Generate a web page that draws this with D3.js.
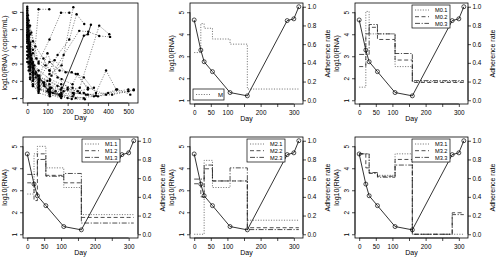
<!DOCTYPE html>
<meta charset="utf-8">
<script src="https://cdnjs.cloudflare.com/ajax/libs/d3/7.8.5/d3.min.js"></script>
<style>
  body { margin: 0; background: #fff; }
  text { font-family: "Liberation Sans", Arial, sans-serif; fill: #000; }
</style>
<div id="chart"></div>
<script>

  // ---- data ----
  // panel 1: viral load trajectories, [day, log10 RNA]
  const patients = [
    [[0,6.3],[3,5.8],[7,5.1],[14,4.2],[28,3.0],[56,2.2],[84,1.8],[112,1.5],[168,1.2],[224,1.1],[280,1.0]],
    [[0,6.1],[4,5.3],[8,4.6],[15,3.6],[29,2.8],[57,2.1],[113,1.6],[170,1.3],[230,1.2]],
    [[0,5.9],[2,5.6],[7,4.9],[14,3.9],[21,3.3],[42,2.5],[84,1.9],[140,1.4]],
    [[0,5.8],[7,4.4],[14,3.4],[28,2.5],[56,1.9],[105,1.5],[168,1.2],[240,1.0],[330,1.1],[420,1.2],[527,1.45]],
    [[0,5.6],[5,5.0],[10,4.3],[20,3.5],[35,2.9],[60,2.3],[110,1.8],[165,1.5],[225,1.3],[300,1.2],[400,1.3],[500,1.5]],
    [[0,5.5],[7,4.8],[14,4.0],[28,3.1],[56,2.6],[112,2.1],[168,1.8],[224,1.6],[280,1.3],[350,1.1],[445,1.5],[510,1.2]],
    [[0,5.4],[3,5.2],[7,4.7],[14,3.8],[28,2.9],[60,2.0],[100,1.4],[165,1.1],[220,0.95],[285,0.93]],
    [[0,5.3],[7,4.5],[14,3.7],[21,3.0],[42,2.2],[84,1.7],[126,1.3],[168,1.1]],
    [[0,5.2],[4,4.9],[10,4.0],[20,3.2],[30,2.7],[60,2.1],[110,3.1],[160,2.6],[220,2.5],[280,2.2],[340,1.3],[390,2.6],[440,1.5]],
    [[0,5.0],[7,4.3],[14,3.5],[28,2.7],[56,2.0],[112,1.6],[160,1.2],[200,1.0]],
    [[0,4.9],[5,4.4],[12,3.6],[25,2.8],[50,2.3],[100,2.0],[150,1.7],[200,1.5],[250,1.4],[330,1.6]],
    [[0,4.8],[7,4.1],[14,3.3],[28,2.6],[56,1.9],[112,1.4],[168,1.2]],
    [[0,4.7],[3,4.5],[7,4.0],[14,3.2],[28,2.4],[56,1.8],[110,2.4],[170,2.9],[228,6.27]],
    [[0,4.6],[7,3.9],[14,3.0],[28,2.3],[56,1.7],[112,1.3],[170,1.1]],
    [[0,4.5],[5,4.2],[10,3.6],[20,3.0],[40,2.4],[80,1.9],[120,1.6],[180,1.4],[260,1.6],[356,5.2],[406,4.7]],
    [[0,4.3],[7,3.7],[14,3.0],[28,2.5],[56,6.15],[109,6.15]],
    [[0,4.2],[7,3.5],[14,2.9],[28,2.2],[56,1.6],[112,1.2],[168,1.0]],
    [[0,4.0],[7,3.4],[14,2.8],[30,2.1],[60,1.7],[120,2.3],[180,3.5],[257,4.9],[302,4.85],[356,4.6],[410,4.55]],
    [[0,3.9],[6,3.4],[13,2.7],[27,2.0],[55,1.6],[110,1.3]],
    [[0,3.7],[7,3.1],[14,2.6],[28,2.0],[56,1.5],[112,2.0],[170,1.6],[230,1.3],[290,1.2],[340,1.15]],
    [[0,3.5],[7,3.0],[14,2.4],[28,1.8],[56,1.3],[112,1.1]],
    [[0,3.3],[7,2.8],[14,2.2],[28,1.7],[56,1.4]],
    [[0,6.0],[14,5.2],[28,4.3],[56,3.1],[110,4.4],[167,5.95],[208,5.95]],
    [[0,5.7],[10,5.2],[20,4.8],[40,4.0],[80,3.3],[110,2.6],[150,3.5],[208,4.4],[244,5.86],[282,5.3]],
    [[0,5.1],[7,4.6],[14,4.1],[28,3.6],[56,3.0],[110,2.6],[170,2.1],[224,1.8],[250,2.4],[300,1.5]],
    [[0,6.2],[7,5.5],[14,4.7],[28,3.8],[45,3.3],[90,2.9],[135,3.2],[190,2.5],[240,2.4],[300,1.6],[390,1.2],[500,1.4],[527,1.5]],
    [[0,3.1],[7,2.6],[14,2.1],[28,1.7],[60,1.5],[110,1.2],[165,1.1]],
    [[0,4.4],[7,3.8],[14,3.1],[28,2.5],[56,2.1],[100,3.6],[150,2.2],[200,1.6],[260,1.3]]
  ]

  // highlighted patient (panels 2-6): visit days and log10 RNA
  const visitDays = [0, 20, 30, 55, 108, 160, 280, 300, 315]
  const logRNA = [4.65, 3.28, 2.75, 2.3, 1.35, 1.2, 4.62, 4.7, 5.25]

  // adherence rate per interval between visits
  const adhM = [0.51, 0.82, 0.77, 0.655, 0.60, 0.12, 0.12, 0.12]
  const adhM0 = [
    [0.14, 0.95, 0.71, 0.71, 0.36, 0.20, 0.20, 0.20],
    [0.36, 0.71, 0.78, 0.65, 0.43, 0.19, 0.19, 0.19],
    [0.49, 0.49, 0.81, 0.71, 0.50, 0.21, 0.21, 0.21]
  ]
  const adhM1 = [
    [0.43, 0.86, 0.94, 0.71, 0.50, 0.21, 0.21, 0.21],
    [0.55, 0.36, 0.86, 0.63, 0.55, 0.18, 0.18, 0.18],
    [0.64, 0.64, 0.80, 0.62, 0.65, 0.12, 0.12, 0.12]
  ]
  const adhM2 = [
    [0.00, 0.00, 0.79, 0.50, 0.57, 0.15, 0.15, 0.15],
    [0.54, 0.40, 0.70, 0.57, 0.57, 0.07, 0.07, 0.07],
    [0.59, 0.59, 0.74, 0.57, 0.71, 0.05, 0.05, 0.05]
  ]
  const adhM3 = [
    [0.86, 0.86, 0.66, 0.63, 0.86, 0.00, 0.00, 0.00],
    [0.86, 0.71, 0.66, 0.62, 0.80, 0.00, 0.23, 0.23],
    [0.86, 0.86, 0.65, 0.61, 0.74, 0.00, 0.21, 0.21]
  ]

  const xTicks1 = [0, 100, 200, 300, 400, 500]
  const yTicks1 = [1, 2, 3, 4, 5, 6]
  const xTicks = [0, 50, 100, 150, 200, 250, 300]
  const xLabels = [0, 50, 100, 200, 300]
  const yTicksL = [1, 2, 3, 4, 5]
  const yTicksR = [0, 0.2, 0.4, 0.6, 0.8, 1.0]

  // ---- layout ----
  const width = 496, height = 259
  const svg = d3.select('#chart').append('svg').attr('width', width).attr('height', height)

  const dash = { dot: '1.1,1.5', dash: '4,2.5', dotdash: '5,1.6,1.2,1.6' }
  const styles = ['dot', 'dash', 'dotdash']

  function pad(ext) {
    const r = ext[1] - ext[0]
    return [ext[0] - 0.04 * r, ext[1] + 0.04 * r]
  }

  function bottomAxis(g, x, box, ticks, labels) {
    const ax = d3.axisBottom(x).tickValues(ticks).tickSize(3).tickPadding(3)
      .tickFormat(d => labels.includes(d) ? d : '')
    const a = g.append('g').attr('transform', 'translate(0,' + box.h + ')').call(ax)
    a.select('.domain').remove()
    a.append('line').attr('x1', x(ticks[0])).attr('x2', x(ticks[ticks.length - 1])).attr('stroke', '#000').attr('stroke-width', 0.7)
    a.selectAll('.tick line').attr('stroke-width', 0.7)
    a.selectAll('text').style('font-size', '6.4px')
  }

  function leftAxis(g, y, ticks) {
    const a = g.append('g').call(d3.axisLeft(y).tickValues(ticks).tickSize(3).tickPadding(3).tickFormat(d3.format('d')))
    a.select('.domain').remove()
    a.append('line').attr('y1', y(ticks[0])).attr('y2', y(ticks[ticks.length - 1])).attr('stroke', '#000').attr('stroke-width', 0.7)
    a.selectAll('.tick line').attr('stroke-width', 0.7)
    a.selectAll('text').style('font-size', '6.4px')
      .attr('x', 0).attr('dy', 0)
      .attr('text-anchor', 'middle')
      .attr('transform', 'translate(-6.5,0) rotate(-90)')
  }

  function frame(box) {
    return svg.append('g').attr('transform', 'translate(' + box.x + ',' + box.y + ')')
  }

  function boxRect(g, box) {
    g.append('rect').attr('width', box.w).attr('height', box.h)
      .attr('fill', 'none').attr('stroke', '#000').attr('stroke-width', 0.8)
  }

  function titles(g, box, left, right) {
    g.append('text').attr('transform', 'translate(-16.5,' + box.h / 2 + ') rotate(-90)')
      .attr('text-anchor', 'middle').style('font-size', '7px').text(left)
    g.append('text').attr('x', box.w / 2).attr('y', box.h + 16.5)
      .attr('text-anchor', 'middle').style('font-size', '7px').text('Day')
    if (right) {
      g.append('text').attr('transform', 'translate(' + (box.w + 26.8) + ',' + box.h / 2 + ') rotate(-90)')
        .attr('text-anchor', 'middle').style('font-size', '7px').text(right)
    }
  }

  // ---- panel 1: spaghetti plot ----
  const box1 = { x: 23, y: 3, w: 115, h: 100 }
  const all = patients.flat().concat(visitDays.map((d, i) => [d, logRNA[i]]))
  const x1 = d3.scaleLinear().domain(pad(d3.extent(all, d => d[0]))).range([0, box1.w])
  const y1 = d3.scaleLinear().domain(pad(d3.extent(all, d => d[1]))).range([box1.h, 0])
  const g1 = frame(box1)
  const line1 = d3.line().x(d => x1(d[0])).y(d => y1(d[1]))

  patients.forEach(p => {
    g1.append('path').datum(p).attr('d', line1)
      .attr('fill', 'none').attr('stroke', '#333').attr('stroke-width', 0.6)
      .attr('stroke-dasharray', dash.dot)
    g1.selectAll(null).data(p).join('circle')
      .attr('cx', d => x1(d[0])).attr('cy', d => y1(d[1])).attr('r', 1.2).attr('fill', '#000')
  })
  const hp = visitDays.map((d, i) => [d, logRNA[i]])
  g1.append('path').datum(hp).attr('d', line1)
    .attr('fill', 'none').attr('stroke', '#000').attr('stroke-width', 0.8)
  g1.selectAll(null).data(hp).join('circle')
    .attr('cx', d => x1(d[0])).attr('cy', d => y1(d[1])).attr('r', 1.2).attr('fill', '#000')

  boxRect(g1, box1)
  bottomAxis(g1, x1, box1, xTicks1, xTicks1)
  leftAxis(g1, y1, yTicks1)
  titles(g1, box1, 'log10(RNA) (copies/mL)')

  // ---- panels 2-6: viral load vs adherence ----
  const panels = [
    { box: { x: 190, y: 3, w: 113, h: 101 }, names: ['M'], series: [adhM], legend: 'bottomleft' },
    { box: { x: 355, y: 3, w: 113, h: 101 }, names: ['M0.1', 'M0.2', 'M0.3'], series: adhM0 },
    { box: { x: 23, y: 137, w: 115, h: 101 }, names: ['M1.1', 'M1.2', 'M1.3'], series: adhM1 },
    { box: { x: 190, y: 137, w: 113, h: 101 }, names: ['M2.1', 'M2.2', 'M2.3'], series: adhM2 },
    { box: { x: 355, y: 137, w: 113, h: 101 }, names: ['M3.1', 'M3.2', 'M3.3'], series: adhM3 }
  ]

  panels.forEach(pn => {
    const box = pn.box
    const g = frame(box)
    const x = d3.scaleLinear().domain(pad(d3.extent(visitDays))).range([0, box.w])
    const yL = d3.scaleLinear().domain(pad([1, d3.max(logRNA)])).range([box.h, 0])
    const yR = d3.scaleLinear().domain(pad([0, 1])).range([box.h, 0])

    const step = d3.line().curve(d3.curveStepAfter).x(d => x(d[0])).y(d => yR(d[1]))
    pn.series.forEach((vals, k) => {
      const pts = vals.map((v, i) => [visitDays[i], v])
      pts.push([visitDays[vals.length], vals[vals.length - 1]])
      g.append('path').datum(pts).attr('d', step)
        .attr('fill', 'none').attr('stroke', k === 0 ? '#555' : '#222').attr('stroke-width', 0.8)
        .attr('stroke-dasharray', dash[styles[k]])
    })

    const rna = d3.line().x((d, i) => x(visitDays[i])).y(d => yL(d))
    g.append('path').datum(logRNA).attr('d', rna)
      .attr('fill', 'none').attr('stroke', '#000').attr('stroke-width', 0.8)
    g.selectAll(null).data(logRNA).join('circle')
      .attr('cx', (d, i) => x(visitDays[i])).attr('cy', d => yL(d)).attr('r', 2)
      .attr('fill', 'none').attr('stroke', '#000').attr('stroke-width', 0.7)

    boxRect(g, box)
    bottomAxis(g, x, box, xTicks, xLabels)
    leftAxis(g, yL, yTicksL)

    const ra = g.append('g').attr('transform', 'translate(' + box.w + ',0)')
      .call(d3.axisRight(yR).tickValues(yTicksR).tickSize(3).tickPadding(1.5).tickFormat(d3.format('.1f')))
    ra.select('.domain').remove()
    ra.append('line').attr('y1', yR(0)).attr('y2', yR(1)).attr('stroke', '#000').attr('stroke-width', 0.7)
    ra.selectAll('.tick line').attr('stroke-width', 0.7)
    ra.selectAll('text').style('font-size', '6.4px')

    titles(g, box, 'log10(RNA)', 'Adherence rate')

    // legend
    if (pn.legend === 'bottomleft') {
      const lg = g.append('g').attr('transform', 'translate(3,' + (box.h - 15) + ')')
      lg.append('rect').attr('width', 31).attr('height', 11).attr('fill', '#fff').attr('stroke', '#000').attr('stroke-width', 0.7)
      lg.append('line').attr('x1', 3).attr('x2', 17).attr('y1', 5.5).attr('y2', 5.5)
        .attr('stroke', '#555').attr('stroke-width', 0.8).attr('stroke-dasharray', dash.dot)
      lg.append('text').attr('x', 25).attr('y', 7.8).style('font-size', '6px').text(pn.names[0])
    } else {
      const lg = g.append('g').attr('transform', 'translate(' + (box.w - 56) + ',2)')
      lg.append('rect').attr('width', 38).attr('height', 23).attr('fill', '#fff').attr('stroke', '#000').attr('stroke-width', 0.7)
      pn.names.forEach((nm, k) => {
        lg.append('line').attr('x1', 3).attr('x2', 17).attr('y1', 5 + k * 6.7).attr('y2', 5 + k * 6.7)
          .attr('stroke', k === 0 ? '#555' : '#222').attr('stroke-width', 0.8).attr('stroke-dasharray', dash[styles[k]])
        lg.append('text').attr('x', 23).attr('y', 7.2 + k * 6.7).style('font-size', '5.6px').text(nm)
      })
    }
  })

</script>
